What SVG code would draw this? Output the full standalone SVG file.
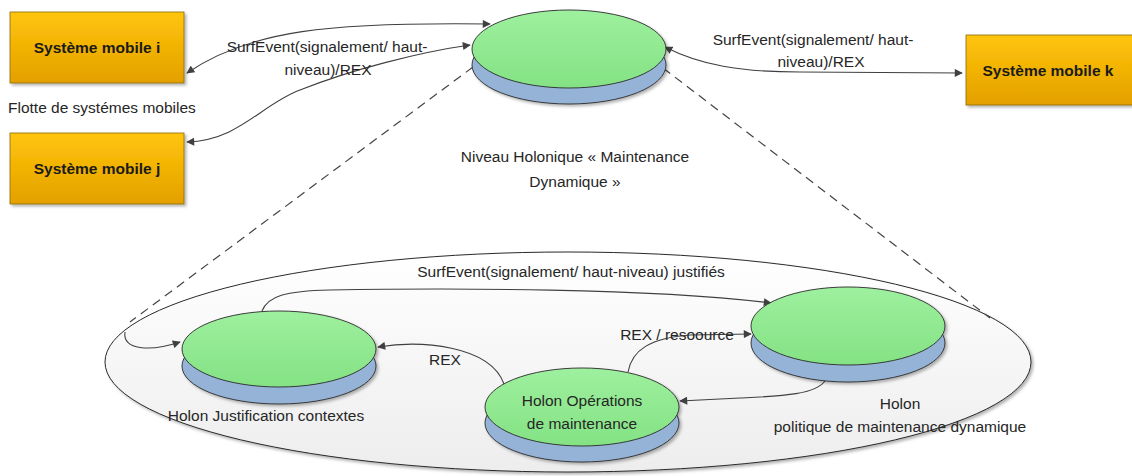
<svg xmlns="http://www.w3.org/2000/svg" width="1132" height="476" viewBox="0 0 1132 476">
<style>
.t{font-family:"Liberation Sans",Arial,sans-serif;font-size:15.5px;fill:#262626}
.b{font-family:"Liberation Sans",Arial,sans-serif;font-size:15.5px;font-weight:bold;fill:#1a1a1a}
.c{fill:none;stroke:#404040;stroke-width:1.1}
.d{fill:none;stroke:#444;stroke-width:1.2;stroke-dasharray:9 6}
.box{fill:url(#og);stroke:#8a6a10;stroke-width:0.8}
.top{fill:url(#gg);stroke:#2a2a2a;stroke-width:0.9}
.base{fill:#95B3D7;stroke:#2a2a2a;stroke-width:0.9}
</style>
<defs>
<linearGradient id="og" x1="0" y1="0" x2="0" y2="1">
<stop offset="0" stop-color="#FFC50A"/><stop offset="1" stop-color="#E4A000"/>
</linearGradient>
<linearGradient id="gg" x1="0" y1="0" x2="0" y2="1">
<stop offset="0" stop-color="#9EF09E"/><stop offset="1" stop-color="#84E284"/>
</linearGradient>
<linearGradient id="wg" x1="0" y1="0" x2="0" y2="1">
<stop offset="0" stop-color="#FFFFFF"/><stop offset="1" stop-color="#EDEDED"/>
</linearGradient>
<filter id="sh" x="-10%" y="-10%" width="125%" height="135%">
<feDropShadow dx="2" dy="2" stdDeviation="1.5" flood-color="#000" flood-opacity="0.3"/>
</filter>
<marker id="ar" viewBox="0 0 10 10" refX="9" refY="5" markerWidth="9" markerHeight="8" markerUnits="userSpaceOnUse" orient="auto-start-reverse">
<path d="M0,0 L10,5 L0,10 z" fill="#404040"/>
</marker>
</defs>

<g id="cluster">
<ellipse cx="568" cy="362" rx="463" ry="110" fill="url(#wg)" stroke="#2a2a2a" stroke-width="1" filter="url(#sh)"/>
</g>

<g id="connectors">
<path class="d" d="M473,67 L130,322"/>
<path class="d" d="M663,68 L990,318"/>
<path class="c" d="M187,73 C250,30 330,22 490,24" marker-start="url(#ar)" marker-end="url(#ar)"/>
<path class="c" d="M187,142 C240,140 260,105 300,90 C350,70 420,52 470,45" marker-start="url(#ar)" marker-end="url(#ar)"/>
<path class="c" d="M665,47 C700,65 740,72 800,72 L962,73" marker-start="url(#ar)" marker-end="url(#ar)"/>
<path class="c" d="M262,311 C268,296 285,291 330,290 C450,288 650,288 771,303" marker-end="url(#ar)"/>
<path class="c" d="M125,332 C122,350 150,352 180,342" marker-end="url(#ar)"/>
<path class="c" d="M504,384 C490,345 420,340 378,347" marker-end="url(#ar)"/>
<path class="c" d="M628,372 C632,350 650,338 690,335 L751,334" marker-end="url(#ar)"/>
<path class="c" d="M825,381 C815,395 780,396 740,398 L680,401" marker-end="url(#ar)"/>
</g>

<g id="sys-i">
<rect class="box" x="10" y="12" width="174" height="71" filter="url(#sh)"/>
<text class="b" x="97" y="53" text-anchor="middle">Système mobile i</text>
</g>
<g id="sys-j">
<rect class="box" x="10" y="133" width="174" height="71" filter="url(#sh)"/>
<text class="b" x="97" y="174" text-anchor="middle">Système mobile j</text>
</g>
<g id="sys-k">
<rect class="box" x="966" y="35" width="170" height="70" filter="url(#sh)"/>
<text class="b" x="1048" y="76" text-anchor="middle">Système mobile k</text>
</g>

<g id="holon-top" filter="url(#sh)">
<ellipse class="base" cx="569" cy="65" rx="97" ry="39"/>
<ellipse class="top" cx="569" cy="49" rx="97" ry="39"/>
</g>
<g id="holon-justification">
<g filter="url(#sh)">
<ellipse class="base" cx="279" cy="366" rx="97" ry="38"/>
<ellipse class="top" cx="279" cy="349" rx="97" ry="38"/>
</g>
<text class="t" x="266" y="421" text-anchor="middle">Holon Justification contextes</text>
</g>
<g id="holon-operations">
<g filter="url(#sh)">
<ellipse class="base" cx="582" cy="423" rx="97" ry="39"/>
<ellipse class="top" cx="582" cy="407" rx="97" ry="39"/>
</g>
<text class="t" x="582" y="406" text-anchor="middle">Holon Opérations</text>
<text class="t" x="582" y="429" text-anchor="middle">de maintenance</text>
</g>
<g id="holon-politique">
<g filter="url(#sh)">
<ellipse class="base" cx="848" cy="343" rx="97" ry="39"/>
<ellipse class="top" cx="848" cy="326" rx="97" ry="39"/>
</g>
<text class="t" x="900" y="409" text-anchor="middle">Holon</text>
<text class="t" x="900" y="432" text-anchor="middle">politique de maintenance dynamique</text>
</g>

<g id="labels">
<text class="t" x="327" y="52" text-anchor="middle">SurfEvent(signalement/ haut-</text>
<text class="t" x="328" y="75" text-anchor="middle">niveau)/REX</text>
<text class="t" x="813" y="45" text-anchor="middle">SurfEvent(signalement/ haut-</text>
<text class="t" x="821" y="67" text-anchor="middle">niveau)/REX</text>
<text class="t" x="8" y="113">Flotte de systémes mobiles</text>
<text class="t" x="575" y="162" text-anchor="middle">Niveau Holonique « Maintenance</text>
<text class="t" x="575" y="187" text-anchor="middle">Dynamique »</text>
<text class="t" x="571" y="277" text-anchor="middle">SurfEvent(signalement/ haut-niveau) justifiés</text>
<text class="t" x="445" y="365" text-anchor="middle">REX</text>
<text class="t" x="677" y="340" text-anchor="middle">REX / resoource</text>
</g>
</svg>
